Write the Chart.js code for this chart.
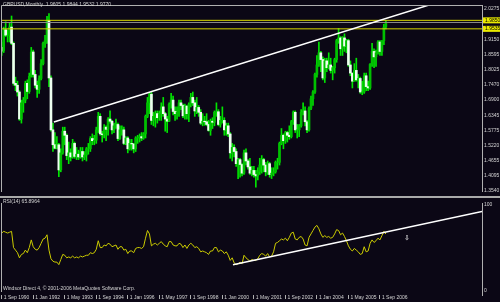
<!DOCTYPE html>
<html>
<head>
<meta charset="utf-8">
<title>GBPUSD, Monthly</title>
<script src="https://cdn.jsdelivr.net/npm/chart.js"></script>
<style>
    body { margin: 0; background: #0b0715; width: 500px; height: 302px; overflow: hidden; position: relative; }
    canvas { position: absolute; left: 0; }
    #priceChart { top: 0; }
    #sep { position: absolute; left: 0; top: 196px; width: 500px; height: 2px; background: #a9a9a9; }
    #rsiChart { top: 198px; }
</style>
</head>
<body>
<canvas id="priceChart" width="500" height="196"></canvas>
<div id="sep"></div>
<canvas id="rsiChart" width="500" height="104"></canvas>
<script>
// monthly bars, Sep 1990 .. Dec 2006 (bar index 0..195)
const opens = [
    1.885,1.872,1.950,1.930,1.930,1.960,1.900,1.752,1.745,1.720,1.620,1.680,1.690,1.752,1.722,1.778,
    1.868,1.785,1.745,1.730,1.770,1.825,1.900,1.910,1.985,1.772,1.580,1.525,
    1.512,1.525,1.432,1.495,1.575,1.560,1.485,1.495,1.480,1.530,1.482,1.490,
    1.480,1.500,1.480,1.487,1.510,1.510,1.548,1.540,1.542,1.580,1.630,1.565,
    1.562,1.590,1.582,1.620,1.612,1.580,1.595,1.600,1.548,1.580,1.580,1.530,
    1.550,1.510,1.530,1.528,1.510,1.550,1.552,1.555,1.550,1.565,1.630,1.680,
    1.712,1.615,1.630,1.640,1.625,1.640,1.665,1.640,1.620,1.612,1.675,1.690,
    1.648,1.640,1.645,1.680,1.670,1.632,1.668,1.640,1.675,1.700,1.680,1.650,
    1.663,1.645,1.605,1.612,1.610,1.600,1.578,1.612,1.608,1.645,1.647,1.600,
    1.615,1.615,1.580,1.595,1.565,1.495,1.515,1.500,1.455,1.470,1.452,1.420,
    1.495,1.465,1.443,1.420,1.430,1.415,1.410,1.425,1.450,1.470,1.450,1.425,
    1.455,1.415,1.420,1.425,1.460,1.460,1.530,1.560,1.540,1.570,1.560,1.555,
    1.610,1.645,1.580,1.580,1.595,1.645,1.650,1.610,1.580,1.660,1.695,1.720,
    1.785,1.820,1.865,1.840,1.772,1.835,1.810,1.820,1.800,1.810,1.840,1.910,
    1.920,1.880,1.920,1.890,1.910,1.820,1.790,1.760,1.800,1.765,1.770,1.720,
    1.720,1.780,1.740,1.735,1.822,1.870,1.850,1.865,1.905,1.870,1.910,1.9605
];
const highs = [
    1.905,1.960,1.980,1.950,1.975,2.001,1.905,1.775,1.760,1.725,1.690,1.700,1.760,1.765,1.790,1.885,
    1.875,1.800,1.760,1.780,1.840,1.905,1.930,2.000,2.010,1.780,1.605,1.570,
    1.555,1.530,1.510,1.590,1.590,1.565,1.535,1.510,1.545,1.535,1.515,1.505,
    1.515,1.515,1.500,1.515,1.530,1.555,1.565,1.560,1.590,1.645,1.640,1.575,
    1.600,1.595,1.625,1.650,1.615,1.605,1.620,1.605,1.595,1.595,1.590,1.555,
    1.555,1.545,1.545,1.530,1.555,1.560,1.565,1.570,1.570,1.635,1.700,1.715,
    1.720,1.645,1.650,1.650,1.650,1.680,1.700,1.645,1.630,1.680,1.715,1.705,
    1.665,1.665,1.690,1.690,1.675,1.675,1.670,1.680,1.715,1.720,1.690,1.700,
    1.670,1.655,1.640,1.630,1.640,1.615,1.620,1.625,1.650,1.680,1.655,1.630,
    1.665,1.625,1.605,1.605,1.570,1.530,1.525,1.510,1.475,1.475,1.455,1.505,
    1.510,1.470,1.475,1.445,1.445,1.430,1.440,1.475,1.485,1.475,1.460,1.465,
    1.460,1.440,1.440,1.465,1.475,1.535,1.585,1.565,1.575,1.575,1.595,1.615,
    1.650,1.650,1.600,1.600,1.655,1.680,1.665,1.615,1.665,1.705,1.725,1.790,
    1.855,1.905,1.870,1.850,1.845,1.845,1.865,1.845,1.815,1.845,1.915,1.955,
    1.925,1.925,1.935,1.915,1.915,1.835,1.790,1.825,1.845,1.785,1.775,1.760,
    1.790,1.790,1.760,1.825,1.900,1.880,1.875,1.910,1.910,1.910,1.970,1.9844
];
const lows = [
    1.855,1.866,1.925,1.905,1.905,1.895,1.745,1.725,1.705,1.615,1.605,1.645,1.680,1.695,1.715,1.775,
    1.775,1.735,1.700,1.715,1.765,1.820,1.885,1.900,1.740,1.575,1.500,1.510,
    1.510,1.407,1.425,1.490,1.525,1.470,1.455,1.465,1.475,1.475,1.470,1.470,
    1.475,1.465,1.470,1.465,1.490,1.500,1.525,1.525,1.530,1.570,1.560,1.535,
    1.550,1.540,1.560,1.605,1.565,1.570,1.585,1.540,1.545,1.560,1.525,1.525,
    1.495,1.505,1.505,1.495,1.500,1.530,1.535,1.540,1.545,1.550,1.625,1.640,
    1.600,1.595,1.590,1.605,1.615,1.615,1.630,1.575,1.570,1.610,1.660,1.635,
    1.615,1.620,1.630,1.655,1.625,1.620,1.620,1.610,1.665,1.670,1.630,1.640,
    1.630,1.600,1.595,1.597,1.595,1.575,1.560,1.585,1.595,1.630,1.595,1.590,
    1.605,1.560,1.560,1.555,1.475,1.465,1.480,1.445,1.400,1.405,1.410,1.415,
    1.450,1.435,1.415,1.410,1.405,1.368,1.395,1.415,1.420,1.425,1.410,1.415,
    1.405,1.400,1.410,1.420,1.435,1.450,1.525,1.510,1.530,1.535,1.545,1.550,
    1.600,1.570,1.550,1.555,1.590,1.635,1.595,1.570,1.575,1.655,1.670,1.715,
    1.775,1.815,1.795,1.765,1.755,1.795,1.805,1.790,1.765,1.790,1.830,1.900,
    1.855,1.855,1.870,1.865,1.815,1.780,1.735,1.760,1.760,1.735,1.715,1.710,
    1.715,1.725,1.725,1.730,1.815,1.810,1.815,1.860,1.855,1.855,1.895,1.9532
];
const closes = [
    1.872,1.950,1.930,1.930,1.960,1.900,1.752,1.745,1.720,1.620,1.680,1.690,1.752,1.722,1.778,1.868,
    1.785,1.745,1.730,1.770,1.825,1.900,1.910,1.985,1.772,1.580,1.525,1.512,
    1.525,1.432,1.495,1.575,1.560,1.485,1.495,1.480,1.530,1.482,1.490,1.480,
    1.500,1.480,1.487,1.510,1.510,1.548,1.540,1.542,1.580,1.630,1.565,1.562,
    1.590,1.582,1.620,1.612,1.580,1.595,1.600,1.548,1.580,1.580,1.530,1.550,
    1.510,1.530,1.528,1.510,1.550,1.552,1.555,1.550,1.565,1.630,1.680,1.712,
    1.615,1.630,1.640,1.625,1.640,1.665,1.640,1.620,1.612,1.675,1.690,1.648,
    1.640,1.645,1.680,1.670,1.632,1.668,1.640,1.675,1.700,1.680,1.650,1.663,
    1.645,1.605,1.612,1.610,1.600,1.578,1.612,1.608,1.645,1.647,1.600,1.615,
    1.615,1.580,1.595,1.565,1.495,1.515,1.500,1.455,1.470,1.452,1.420,1.495,
    1.465,1.443,1.420,1.430,1.415,1.410,1.425,1.450,1.470,1.450,1.425,1.455,
    1.415,1.420,1.425,1.460,1.460,1.530,1.560,1.540,1.570,1.560,1.555,1.610,
    1.645,1.580,1.580,1.595,1.645,1.650,1.610,1.580,1.660,1.695,1.720,1.785,
    1.820,1.865,1.840,1.772,1.835,1.810,1.820,1.800,1.810,1.840,1.910,1.920,
    1.880,1.920,1.890,1.910,1.820,1.790,1.760,1.800,1.765,1.770,1.720,1.720,
    1.780,1.740,1.735,1.822,1.870,1.850,1.865,1.905,1.870,1.910,1.960,1.9770
];
const rsi14 = [
    67,69,68,67,68,69,50,47,44,38,42,43,47,44,50,59,
    51,48,47,50,55,60,61,65,47,37,34,33,
    33,30,36,42,41,38,39,38,40,38,39,38,
    40,39,40,41,41,44,43,44,48,58,50,50,
    53,52,55,54,51,52,53,48,51,51,47,48,
    43,46,46,44,49,50,50,49,51,61,70,66,
    52,54,55,53,55,57,54,52,51,57,57,53,
    52,52,55,54,50,53,49,53,55,53,50,51,
    49,45,46,45,44,42,46,46,50,50,45,47,
    46,43,45,41,35,38,32,30,31,33,31,41,
    38,36,34,36,35,35,37,41,43,42,40,43,
    39,40,45,55,56,58,60,59,61,58,62,67,
    68,60,59,62,63,60,53,52,62,66,70,74,
    76,72,66,62,64,62,63,61,62,66,71,70,
    65,67,63,58,52,48,46,49,47,45,42,43,
    51,45,46,55,59,56,58,61,59,64,69,65.8964
];

const dateTicks = [0, 16, 32, 48, 64, 80, 96, 112, 128, 144, 160, 176, 192];
const dateLabels = ["1 Sep 1990", "1 Jan 1992", "1 May 1993", "1 Sep 1994", "1 Jan 1996", "1 May 1997",
    "1 Sep 1998", "1 Jan 2000", "1 May 2001", "1 Sep 2002", "1 Jan 2004", "1 May 2005", "1 Sep 2006"];
const priceTicks = [2.0275, 1.9150, 1.8595, 1.8025, 1.7470, 1.6900, 1.6345, 1.5775, 1.5220, 1.4655, 1.4095, 1.3540];
const priceLevels = [1.9850, 1.9535];
const bidPrice = 1.9770;
const priceTrend = [{x: 26.5, y: 1.609}, {x: 218.4, y: 2.045}];
const rsiTrend = [{x: 117.4, y: 30.0}, {x: 243.8, y: 92.4}];
const rsiArrows = [{x: 205.7, y: 61}];
const rsiTicks = [0, 100];

const X_MIN = -0.36, X_MAX = 243.8;
const FONT = {family: "Liberation Sans", size: 5};
const TEXT = "#d4d4d4";
const FRAME = "#b0b0b0";

function hLine(v, color) {
    return {type: "line", data: [{x: X_MIN, y: v}, {x: X_MAX, y: v}], borderColor: color,
            borderWidth: 1, pointRadius: 0};
}

const priceDecor = {
    id: "priceDecor",
    afterDraw(chart) {
        const {ctx, chartArea: a, scales: {y}} = chart;
        ctx.save();
        ctx.strokeStyle = FRAME;
        ctx.lineWidth = 1;
        ctx.beginPath();
        ctx.moveTo(a.left + 0.5, a.bottom + 1);
        ctx.lineTo(a.left + 0.5, a.top + 0.5);
        ctx.lineTo(a.right, a.top + 0.5);
        ctx.stroke();

        ctx.font = "5px 'Liberation Sans'";
        ctx.textBaseline = "middle";
        ctx.textAlign = "left";
        ctx.fillStyle = TEXT;
        ctx.fillText("GBPUSD,Monthly  1.9605 1.9844 1.9532 1.9770", 3, 5);

        const by = y.getPixelForValue(bidPrice);
        ctx.fillStyle = "#e6e6e6";
        ctx.fillRect(a.right + 1, by - 0.5, 18, 1);
        priceLevels.forEach(v => {
            const py = y.getPixelForValue(v);
            ctx.fillStyle = "#ecec00";
            ctx.fillRect(a.right + 1, py - 3, 18, 6);
            ctx.fillStyle = "#000";
            ctx.fillText(v.toFixed(4), a.right + 3, py);
        });
        ctx.restore();
    }
};

const rsiDecor = {
    id: "rsiDecor",
    afterDraw(chart) {
        const {ctx, chartArea: a, scales: {x, y}} = chart;
        ctx.save();
        ctx.strokeStyle = FRAME;
        ctx.lineWidth = 1;
        ctx.beginPath();
        ctx.moveTo(a.left + 0.5, a.top);
        ctx.lineTo(a.left + 0.5, a.bottom - 3);
        ctx.stroke();

        ctx.font = "5px 'Liberation Sans'";
        ctx.textBaseline = "middle";
        ctx.textAlign = "left";
        ctx.fillStyle = TEXT;
        ctx.fillText("RSI(14) 65.8964", 3, 4);
        ctx.fillText("Windsor Direct 4, \u00a9 2001-2006 MetaQuotes Software Corp.", 3, 91);

        ctx.font = "7px 'DejaVu Sans'";
        ctx.textAlign = "center";
        ctx.fillStyle = "#ffffff";
        rsiArrows.forEach(p => {
            ctx.fillText("\u21e9", x.getPixelForValue(p.x), y.getPixelForValue(p.y));
        });
        ctx.restore();
    }
};

new Chart(document.getElementById("priceChart"), {
    type: "bar",
    data: {
        datasets: [
            {type: "line", data: priceTrend, borderColor: "#ffffff", borderWidth: 1.5, pointRadius: 0},
            hLine(priceLevels[0], "#d8d800"),
            hLine(priceLevels[1], "#d8d800"),
            hLine(bidPrice, "#8a8a8a"),
            {
                data: opens.map((o, i) => ({x: i, y: [o, closes[i]]})),
                backgroundColor: c => closes[c.dataIndex] >= opens[c.dataIndex] ? "#00c000" : "#eefff0",
                barThickness: 2,
                grouped: false
            },
            {
                data: highs.map((h, i) => ({x: i, y: [lows[i], h]})),
                backgroundColor: "#00e400",
                barThickness: 1,
                grouped: false
            }
        ]
    },
    options: {
        responsive: false,
        animation: false,
        layout: {padding: {left: 1, top: 1, right: 0, bottom: 1}},
        plugins: {legend: {display: false}, tooltip: {enabled: false}},
        scales: {
            x: {type: "linear", min: X_MIN, max: X_MAX, offset: false, display: false,
                grid: {offset: false}},
            y: {
                position: "right", min: 1.3540, max: 2.0417,
                afterFit: s => { s.width = 18; },
                afterBuildTicks: s => { s.ticks = priceTicks.map(v => ({value: v})); },
                ticks: {color: TEXT, font: FONT, padding: 2, callback: v => v.toFixed(4)},
                grid: {display: false, drawTicks: false},
                border: {display: true, color: FRAME}
            }
        }
    },
    plugins: [priceDecor]
});

new Chart(document.getElementById("rsiChart"), {
    type: "line",
    data: {
        datasets: [
            {data: rsiTrend, borderColor: "#ffffff", borderWidth: 1.5, pointRadius: 0},
            {data: rsi14.map((v, i) => ({x: i, y: v})), borderColor: "#cccc00", borderWidth: 1,
             pointRadius: 0, tension: 0}
        ]
    },
    options: {
        responsive: false,
        animation: false,
        layout: {padding: {left: 1, top: 0, right: 0, bottom: 0}},
        plugins: {legend: {display: false}, tooltip: {enabled: false}},
        scales: {
            x: {
                type: "linear", min: X_MIN, max: X_MAX, offset: false, position: "bottom",
                afterBuildTicks: s => { s.ticks = dateTicks.map(v => ({value: v})); },
                afterFit: s => { s.height = 7; },
                ticks: {color: TEXT, font: FONT, align: "start", labelOffset: 2, padding: -4,
                        maxRotation: 0, autoSkip: false, callback: (v, i) => dateLabels[i]},
                grid: {drawOnChartArea: false, drawTicks: true, tickLength: 4, color: FRAME},
                border: {display: false}
            },
            y: {
                position: "right", min: -5.56, max: 102.22,
                afterFit: s => { s.width = 18; },
                afterBuildTicks: s => { s.ticks = rsiTicks.map(v => ({value: v})); },
                ticks: {color: TEXT, font: FONT, padding: 2},
                grid: {display: false, drawTicks: false},
                border: {display: true, color: FRAME}
            }
        }
    },
    plugins: [rsiDecor]
});
</script>
</body>
</html>
